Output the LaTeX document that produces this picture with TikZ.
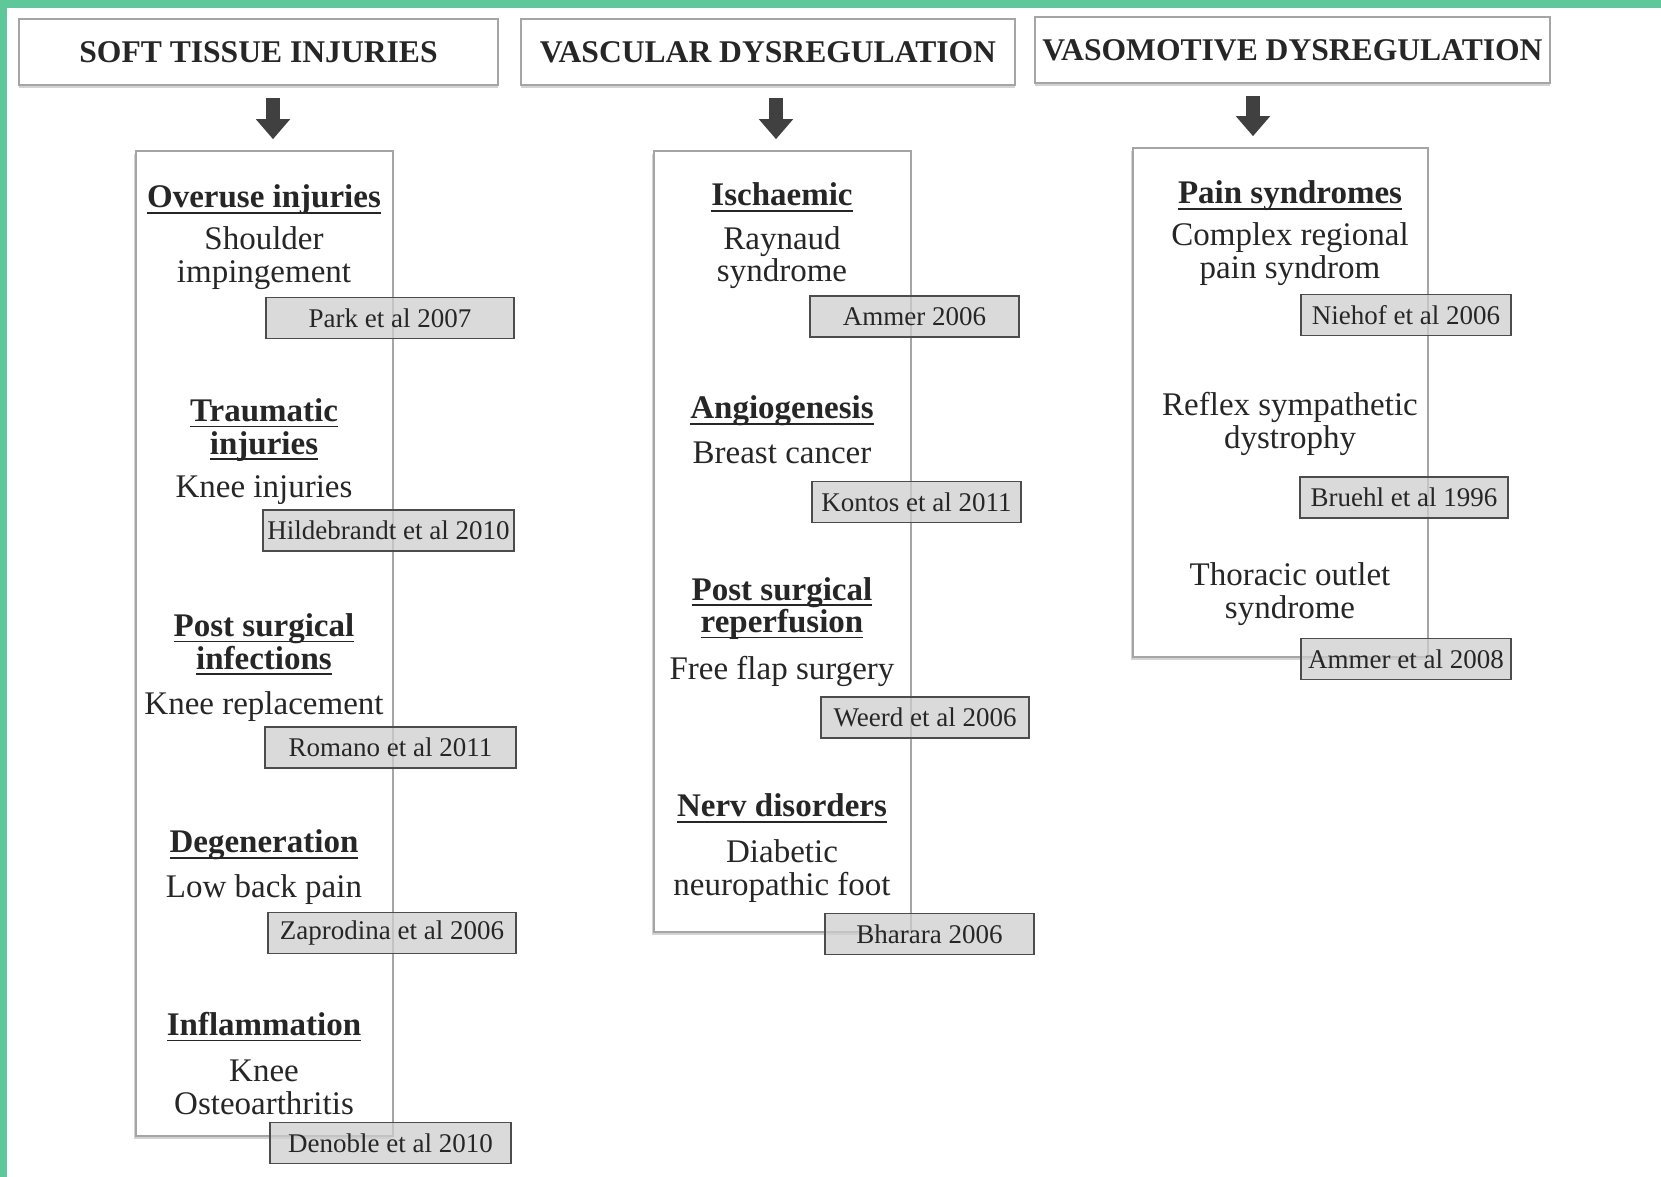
\documentclass[tikz,border=0pt]{standalone}
\usepackage{amsmath}
\usepackage{fontspec}
\setmainfont{Liberation Serif}
\usetikzlibrary{arrows.meta,shadows}

\definecolor{framegreen}{RGB}{94,200,154}
\definecolor{refgray}{RGB}{206,206,206}
\definecolor{edgegray}{RGB}{165,165,165}

\newcommand{\hd}[1]{\underline{\smash[b]{\textbf{#1}}}}

\begin{document}
\begin{tikzpicture}[
  x=0.5pt, y=-0.5pt,
  every node/.style={font=\fontsize{16.5}{16.2}\selectfont, text=black!85, inner sep=0pt, align=center},
  headbox/.style={draw=edgegray, fill=white, line width=0.7pt, minimum height=33pt,
    font=\fontsize{15.8}{16}\selectfont\bfseries,
    drop shadow={shadow xshift=0pt, shadow yshift=-1.3pt, opacity=0.35}},
  panel/.style={draw=edgegray, fill=white, line width=0.8pt, minimum width=128.5pt,
    drop shadow={shadow xshift=-0.8pt, shadow yshift=-1.3pt, opacity=0.35}},
  refbox/.style={draw=black!70, fill=refgray, fill opacity=0.75, text opacity=1,
    line width=0.9pt, minimum height=20.5pt, font=\fontsize{13.5}{14}\selectfont},
  bigarrow/.style={draw=black!75, line width=7pt, -{Triangle[width=16.5pt,length=10pt]},
    shorten <=6pt, shorten >=5.5pt}
]
\useasboundingbox (0,0) rectangle (1661,1177);
\fill[framegreen] (0,0) rectangle (1661,8);
\fill[framegreen] (0,0) rectangle (7,1177);

\node[headbox, minimum width=239.5pt] (h1) at (258.5,52) {SOFT TISSUE INJURIES};
\node[headbox, minimum width=247pt] (h2) at (768,52) {VASCULAR DYSREGULATION};
\node[headbox, minimum width=257.5pt] (h3) at (1292.5,50) {VASOMOTIVE DYSREGULATION};

\node[panel, minimum height=492.5pt] (p1) at (264.5,643.5) {};
\node[panel, minimum height=390.5pt] (p2) at (782.5,541.5) {};
\node[panel, minimum width=147.5pt, minimum height=254.5pt] (p3) at (1280.5,402.5) {};

\draw[bigarrow] (h1.south -| 273,0) -- (p1.north -| 273,0);
\draw[bigarrow] (h2.south -| 776,0) -- (p2.north -| 776,0);
\draw[bigarrow] (h3.south -| 1253,0) -- (p3.north -| 1253,0);

\node (t11) at (264,200) {\hd{Overuse injuries}};
\node (s11) at (264,258) {Shoulder\\impingement};
\node (t12) at (264,430) {\hd{Traumatic}\\\hd{injuries}};
\node (s12) at (264,490) {Knee injuries};
\node (t13) at (264,645) {\hd{Post surgical}\\\hd{infections}};
\node (s13) at (264,707) {Knee replacement};
\node (t14) at (264,845) {\hd{Degeneration}};
\node (s14) at (264,890) {Low back pain};
\node (t15) at (264,1027.5) {\hd{Inflammation}};
\node (s15) at (264,1087.5) {Knee\\Osteoarthritis};

\node (t21) at (782,198) {\hd{Ischaemic}};
\node (s21) at (782,257.5) {Raynaud\\syndrome};
\node (t22) at (782,411) {\hd{Angiogenesis}};
\node (s22) at (782,453) {Breast cancer};
\node (t23) at (782,608.3) {\hd{Post surgical}\\\hd{reperfusion}};
\node (s23) at (782,671) {Free flap surgery};
\node (t24) at (782,809) {\hd{Nerv disorders}};
\node (s24) at (782,871) {Diabetic\\neuropathic foot};

\node (t31) at (1290,196) {\hd{Pain syndromes}};
\node (s31) at (1290,254) {Complex regional\\pain syndrom};
\node (s32) at (1290,424) {Reflex sympathetic\\dystrophy};
\node (s33) at (1290,594) {Thoracic outlet\\syndrome};

\node[refbox, minimum width=124pt] (r11) at (390,318) {Park et al 2007};
\node[refbox, minimum width=125.5pt] (r12) at (388.5,530.5) {Hildebrandt et al 2010};
\node[refbox, minimum width=125.5pt] (r13) at (390.5,747.5) {Romano et al 2011};
\node[refbox, minimum width=124pt] (r14) at (392,933) {Zaprodina et al 2006};
\node[refbox, minimum width=120.5pt] (r15) at (390.5,1143) {Denoble et al 2010};

\node[refbox, minimum width=104.5pt] (r21) at (914.5,316.5) {Ammer 2006};
\node[refbox, minimum width=104.5pt] (r22) at (916.5,502) {Kontos et al 2011};
\node[refbox, minimum width=104pt] (r23) at (925,717.5) {Weerd et al 2006};
\node[refbox, minimum width=104.5pt] (r24) at (929.5,934) {Bharara 2006};

\node[refbox, minimum width=105pt] (r31) at (1406,315) {Niehof et al 2006};
\node[refbox, minimum width=104pt] (r32) at (1404,497.5) {Bruehl et al 1996};
\node[refbox, minimum width=105pt] (r33) at (1406,659) {Ammer et al 2008};
\end{tikzpicture}
\end{document}
